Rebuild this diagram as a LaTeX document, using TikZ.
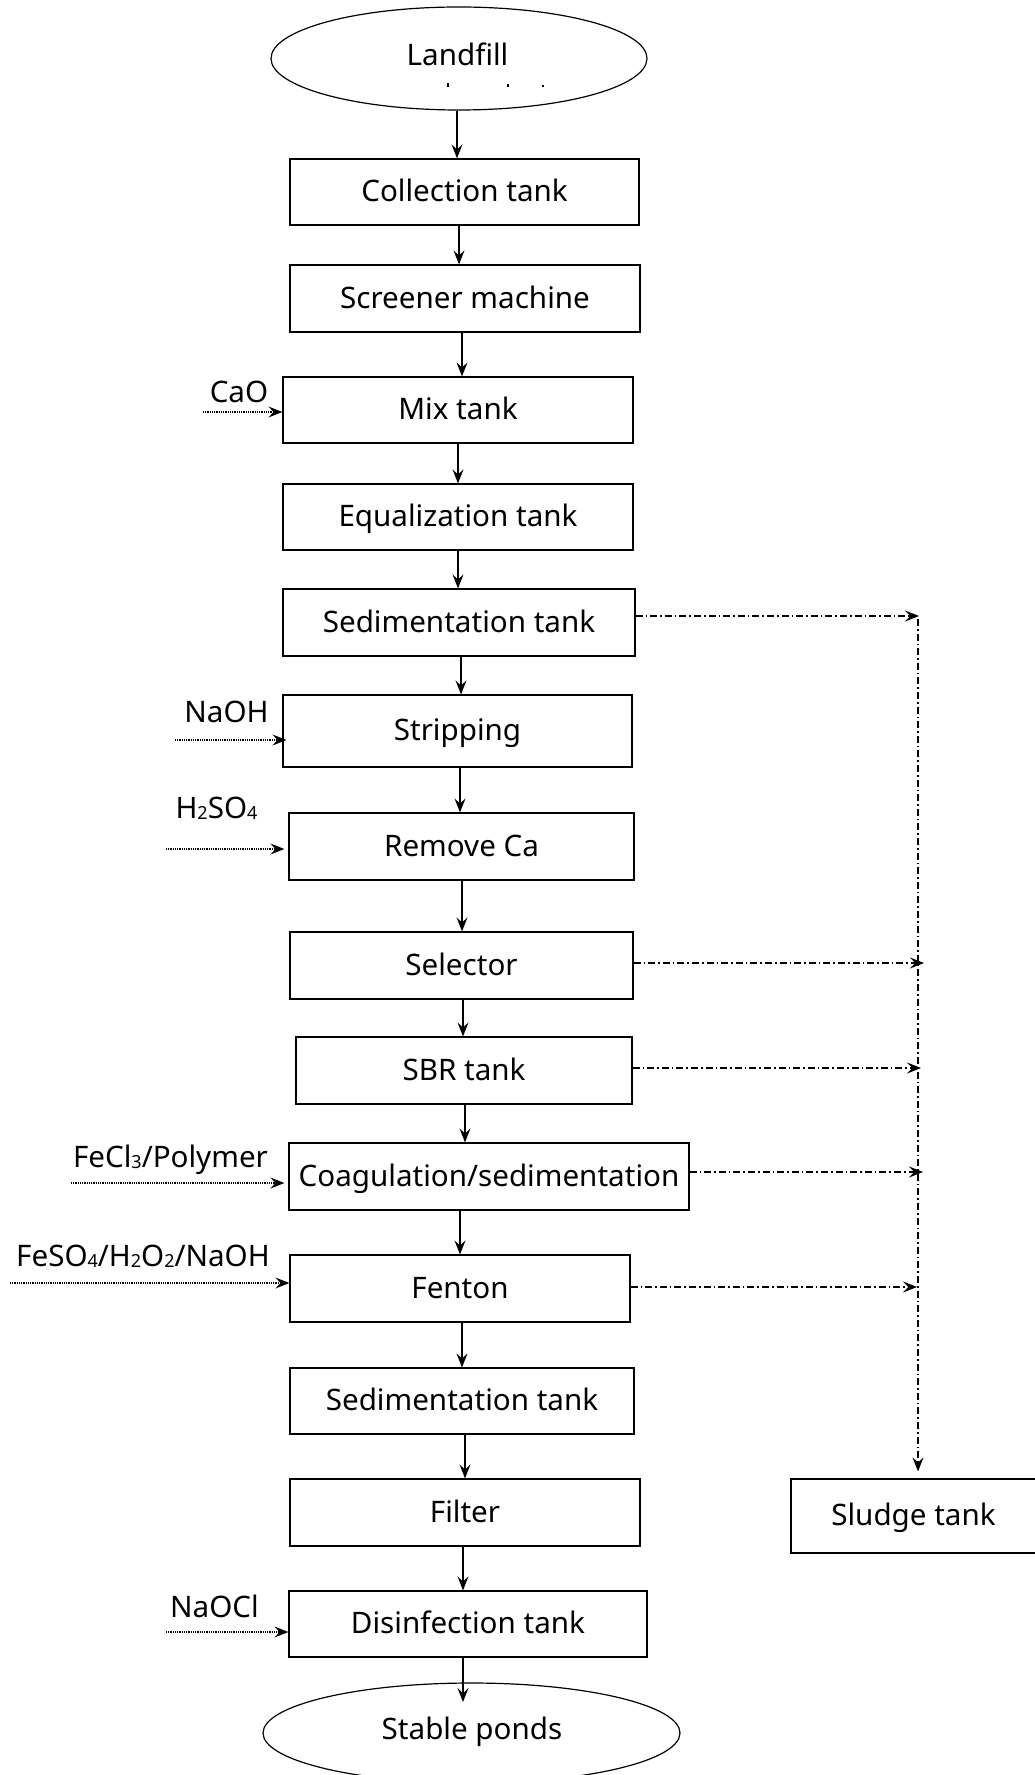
\documentclass[tikz,border=0pt]{standalone}
\usepackage{fontspec}
\setmainfont{Noto Sans}
\usetikzlibrary{arrows.meta,shapes.geometric}
\newcommand\mysub[1]{\raisebox{-0.6pt}{\fontsize{9}{9}\selectfont #1}}
\begin{document}
\begin{tikzpicture}[x=0.5pt,y=-0.5pt,
  base/.style={font=\fontsize{14.8}{18}\selectfont, inner sep=0pt},
  pbox/.style 2 args={base, draw, line width=0.6pt, minimum width=#1*0.5pt, minimum height=#2*0.5pt, text height=1.0em, text depth=0.01em},
  oval/.style 2 args={draw, ellipse, line width=0.6pt, inner sep=0pt, minimum width=#1*0.5pt, minimum height=#2*0.5pt},
  lbl/.style={base, anchor=base},
  flow/.style={-{Stealth[length=7pt,width=5.5pt,inset=2.6pt]}, line width=0.6pt},
  feed/.style={-{Stealth[length=7pt,width=5.5pt,inset=2.6pt]}, line width=0.6pt, dash pattern=on 0.45pt off 0.45pt},
  sludgeflow/.style={-{Stealth[length=7pt,width=5.5pt,inset=2.6pt]}, line width=0.6pt, dash pattern=on 3.5pt off 1.5pt on 0.8pt off 1.5pt}
]
\useasboundingbox (0,0) rectangle (1034,1775);

% --- main column ---
\node[oval={376}{103}] (src) at (459,58.5) {};
\node[lbl] (srctext) at (457.5,66) {Landfill};
\fill (447,83) rectangle (449,87.5);
\fill (507,84) rectangle (509,87.5);
\fill (542,85) rectangle (544,87.5);

\node[pbox={349}{66}] (collect) at (464.5,192) {Collection tank};
\node[pbox={350}{67}] (screen) at (465,298.5) {Screener machine};
\node[pbox={350}{66}] (mix) at (458,410) {Mix tank};
\node[pbox={350}{66}] (equal) at (458,517) {Equalization tank};
\node[pbox={352}{67}] (sedA) at (459,622.5) {Sedimentation tank};
\node[pbox={349}{72}] (strip) at (457.5,731) {Stripping};
\node[pbox={345}{67}] (remca) at (461.5,846.5) {Remove Ca};
\node[pbox={343}{67}] (select) at (461.5,965.5) {Selector};
\node[pbox={336}{67}] (sbr) at (464,1070.5) {SBR tank};
\node[pbox={400}{67}] (coag) at (489,1176.5) {Coagulation/sedimentation};
\node[pbox={340}{67}] (fenton) at (460,1288.5) {Fenton};
\node[pbox={344}{66}] (sedB) at (462,1401) {Sedimentation tank};
\node[pbox={350}{67}] (filter) at (465,1512.5) {Filter};
\node[pbox={358}{66}] (disinf) at (468,1624) {Disinfection tank};
\node[oval={417}{100}] (pond) at (471.5,1733) {};
\node[lbl] (pondtext) at (472,1739) {Stable ponds};
\node[pbox={245}{74}] (sludge) at (913.5,1516) {Sludge tank};

% --- main flow arrows ---
\draw[flow] (src.south -| 457,0) -- (collect.north -| 457,0);
\draw[flow] (collect.south -| 459,0) -- (screen.north -| 459,0);
\draw[flow] (screen.south -| 462,0) -- (mix.north -| 462,0);
\draw[flow] (mix.south -| 458,0) -- (equal.north -| 458,0);
\draw[flow] (equal.south -| 458,0) -- (sedA.north -| 458,0);
\draw[flow] (sedA.south -| 461,0) -- (strip.north -| 461,0);
\draw[flow] (strip.south -| 460,0) -- (remca.north -| 460,0);
\draw[flow] (remca.south -| 462,0) -- (select.north -| 462,0);
\draw[flow] (select.south -| 463,0) -- (sbr.north -| 463,0);
\draw[flow] (sbr.south -| 465,0) -- (coag.north -| 465,0);
\draw[flow] (coag.south -| 460,0) -- (fenton.north -| 460,0);
\draw[flow] (fenton.south -| 462,0) -- (sedB.north -| 462,0);
\draw[flow] (sedB.south -| 465,0) -- (filter.north -| 465,0);
\draw[flow] (filter.south -| 463,0) -- (disinf.north -| 463,0);
\coordinate (pondin) at (463,1702);
\draw[flow] (disinf.south -| pondin) -- (pondin);

% --- chemical feeds ---
\node[lbl] (cao) at (239,403) {CaO};
\coordinate (caoin) at (203,412);
\draw[feed] (caoin) -- (mix.west |- caoin);

\node[lbl] (naoh) at (226.5,722) {NaOH};
\coordinate (naohin) at (175,740);
\draw[feed] (naohin) -- ([xshift=2pt]strip.west |- naohin);

\node[lbl] (hso) at (216.5,818) {H\mysub{2}SO\mysub{4}};
\coordinate (hsoin) at (166,849);
\draw[feed] (hsoin) -- ([xshift=-2pt]remca.west |- hsoin);

\node[lbl] (fecl) at (170.5,1167) {FeCl\mysub{3}/Polymer};
\coordinate (feclin) at (71,1183);
\draw[feed] (feclin) -- ([xshift=-2pt]coag.west |- feclin);

\node[lbl] (feso) at (143,1266) {FeSO\mysub{4}/H\mysub{2}O\mysub{2}/NaOH};
\coordinate (fesoin) at (10,1283);
\draw[feed] (fesoin) -- (fenton.west |- fesoin);

\node[lbl] (naocl) at (214.5,1617) {NaOCl};
\coordinate (naoclin) at (166,1632);
\draw[feed] (naoclin) -- (disinf.west |- naoclin);

% --- sludge lines ---
\coordinate (busA) at (919,616);
\coordinate (busB) at (924,963);
\coordinate (busC) at (921,1068);
\coordinate (busD) at (923,1172);
\coordinate (busE) at (917,1287);
\coordinate (bustop) at (918,619);
\draw[sludgeflow] (sedA.east |- busA) -- (busA);
\draw[sludgeflow] (select.east |- busB) -- (busB);
\draw[sludgeflow] (sbr.east |- busC) -- (busC);
\draw[sludgeflow] (coag.east |- busD) -- (busD);
\draw[sludgeflow] (fenton.east |- busE) -- (busE);
\draw[sludgeflow, shorten >=3.5pt] (bustop) -- (sludge.north -| bustop);
\end{tikzpicture}
\end{document}
